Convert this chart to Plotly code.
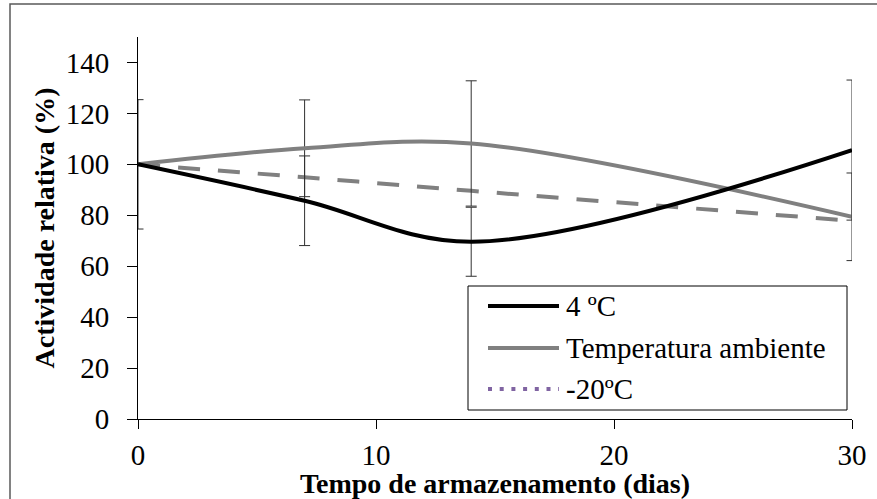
import plotly.graph_objects as go

# Storage time (days) and relative activity (%)
dias = [0, 7, 14, 30]
act_4c = [100, 85.7, 69.6, 105.6]
err_4c = [25.4, 17.6, 13.55, 27.5]
act_amb = [100, 106.3, 108.2, 79.4]
err_amb = [0, 19.0, 24.6, 17.2]
act_m20 = [100, 94.9, 89.6, 77.8]

nomes = ["4 ºC", "Temperatura ambiente", "-20ºC"]
y_ticks = [0, 20, 40, 60, 80, 100, 120, 140]
x_ticks = [0, 10, 20, 30]

FONT = "Liberation Serif"
W, H = 877, 499
ML, MR, MT, MB = 138, 25, 37, 80
PW, PH = W - ML - MR, H - MT - MB


def px_x(p):
    return (p - ML) / PW


def px_y(p):
    return (H - MB - p) / PH


err_style = dict(type="data", visible=True, color="#303030", thickness=1, width=5.5)

fig = go.Figure()
fig.add_trace(go.Scatter(
    x=dias, y=act_m20, mode="lines", showlegend=False,
    line=dict(color="#808080", width=4, dash="22px,18px", shape="spline", smoothing=1),
))
fig.add_trace(go.Scatter(
    x=dias, y=act_amb, mode="lines", showlegend=False,
    line=dict(color="#808080", width=4, shape="spline", smoothing=1),
    error_y=dict(array=err_amb, **err_style),
))
fig.add_trace(go.Scatter(
    x=dias, y=act_4c, mode="lines", showlegend=False,
    line=dict(color="#000000", width=4, shape="spline", smoothing=1),
    error_y=dict(array=err_4c, **err_style),
))

axis_common = dict(
    showline=True, linecolor="#000000", linewidth=1, showgrid=False, zeroline=False,
    ticks="outside", tickcolor="#000000", tickwidth=1,
    tickfont=dict(family=FONT, size=29, color="#000000"),
)
fig.update_xaxes(range=[0, 30], tickvals=x_ticks, ticklen=9, ticklabelstandoff=1,
                 title=dict(text="<b>Tempo de armazenamento (dias)</b>", standoff=7,
                            font=dict(family=FONT, size=28, color="#000000")),
                 **axis_common)
fig.update_yaxes(range=[0, 150], tickvals=y_ticks, ticklen=10, ticklabelstandoff=12,
                 title=dict(text="<b>Actividade relativa (%)</b>", standoff=2,
                            font=dict(family=FONT, size=28, color="#000000")),
                 **axis_common)

shapes = []
# chart frame
shapes.append(dict(type="rect", xref="paper", yref="paper",
                   x0=px_x(10), x1=px_x(W + 5), y0=px_y(H + 5), y1=px_y(4),
                   line=dict(color="#595959", width=1.5), fillcolor="rgba(0,0,0,0)", layer="below"))
# legend box
shapes.append(dict(type="rect", xref="paper", yref="paper",
                   x0=px_x(468), x1=px_x(847), y0=px_y(410), y1=px_y(286),
                   line=dict(color="#000000", width=1), fillcolor="#ffffff", layer="above"))
rows = [306, 348, 389]
samples = [dict(color="#000000", width=4, dash="solid"),
           dict(color="#808080", width=4, dash="solid"),
           dict(color="#8064A2", width=4, dash="4px,7.7px")]
annotations = []
for nome, ry, ln in zip(nomes, rows, samples):
    shapes.append(dict(type="line", xref="paper", yref="paper",
                       x0=px_x(488), x1=px_x(559), y0=px_y(ry), y1=px_y(ry),
                       line=ln, layer="above"))
    annotations.append(dict(xref="paper", yref="paper", x=px_x(564), y=px_y(ry),
                            text=nome, showarrow=False, xanchor="left", yanchor="middle",
                            font=dict(family=FONT, size=29, color="#000000")))

fig.update_layout(
    width=W, height=H,
    margin=dict(l=ML, r=MR, t=MT, b=MB, autoexpand=False),
    paper_bgcolor="#ffffff", plot_bgcolor="#ffffff",
    showlegend=False, shapes=shapes, annotations=annotations,
    font=dict(family=FONT, color="#000000"),
)

fig.write_html("out.html")
